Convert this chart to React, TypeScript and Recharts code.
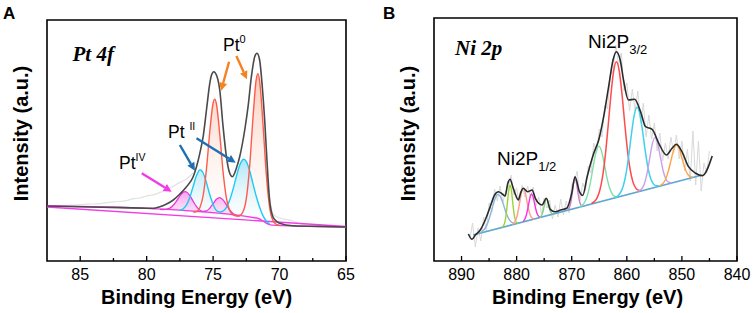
import React from "react";
import {
  ComposedChart,
  Line,
  Area,
  XAxis,
  YAxis,
  ReferenceArea,
  ReferenceLine,
} from "recharts";

const SANS = "'Liberation Sans', Arial, Helvetica, sans-serif";
const SERIF = "'Liberation Serif', 'Times New Roman', serif";

type Pt = [number, number];
type Band = [number, number, number]; // binding energy, background, fitted value

/* ---------- Panel A: Pt 4f ---------- */
const ptTicks = [85, 82.5, 80, 77.5, 75, 72.5, 70, 67.5, 65];
const ptMajor = [85, 80, 75, 70, 65];

const ptRawLeft: Pt[] = [
  [87.5, 55], [86.5, 55.6], [85.5, 55.9], [84.5, 56.8], [83.5, 57.4], [82.5, 59.1],
  [81.5, 60.4], [81, 62.3], [80.5, 63], [80, 65.2], [79.5, 66.1], [79, 68.6],
  [78.5, 71], [78, 74.8], [77.5, 78.6], [77, 82], [76.5, 88],
];
const ptRawRight: Pt[] = [
  [71, 90], [70.75, 64], [70.5, 47], [70.25, 44.5], [70, 43], [69.5, 41.5], [69, 40],
  [68.5, 37.5], [68, 36], [67, 35], [66, 34.6], [65, 34.3],
];

const ptEnvelope: Pt[] = [
  [87.5, 55], [85, 54.2], [82, 53.4], [80, 52.8], [79.5, 52.7], [79, 54.3], [78.5, 57],
  [78, 61], [77.5, 67], [77, 74.3], [76.5, 84.3], [76.25, 94.3], [76, 107.7],
  [75.75, 124.3], [75.5, 151], [75.25, 177.7], [75.12, 186], [74.95, 189.3],
  [74.75, 186], [74.5, 171], [74.25, 134.3], [74, 104.3], [73.75, 87.7], [73.55, 84.3],
  [73.25, 92.7], [73, 104.3], [72.62, 131], [72.37, 154.3], [72.12, 184.3],
  [71.87, 204.3], [71.7, 207.7], [71.5, 201], [71.3, 174.3], [71.12, 141],
  [70.95, 101], [70.75, 61], [70.5, 44.3], [70.25, 40], [70, 37.7], [69, 35.2],
  [67, 34.6], [65, 34],
];

const ptShirley: Pt[] = [
  [87.5, 55], [79.75, 52.5], [72, 43.5], [71.6, 42.5], [71.3, 40.5], [71, 37.8],
  [70.7, 36.1], [70.3, 35.6], [65, 34],
];
const ptLinear: Pt[] = [[87.5, 54], [65, 34.5]];

const pt0: Band[] = [
  [76.5, 48.7, 48.9], [76.25, 48.4, 49.5], [76, 48.1, 53.3], [75.75, 47.8, 65.5],
  [75.5, 47.5, 92], [75.25, 47.3, 129.3], [75, 47, 158], [74.88, 46.9, 161.9],
  [74.75, 46.7, 157], [74.5, 46.4, 126.9], [74.25, 46.1, 89.2], [74, 45.8, 62.8],
  [73.75, 45.5, 50.4], [73.5, 45.2, 46.2], [73.25, 44.9, 45], [73, 44.6, 45.5],
  [72.75, 44.3, 49.2], [72.5, 44, 62.6], [72.25, 43.8, 94.8], [72, 43.5, 143.2],
  [71.75, 43.2, 182.1], [71.63, 43, 187.4], [71.5, 42.1, 180], [71.25, 39.9, 137.7],
  [71, 37.75, 87.2], [70.75, 36, 53.8], [70.5, 35.9, 40.5], [70.25, 35.8, 36.7],
  [70, 35.7, 35.7],
];

const pt2: Band[] = [
  [77.5, 49.9, 50.7], [77.25, 49.6, 52.2], [77, 49.3, 56.1], [76.75, 49, 63.8],
  [76.5, 48.7, 74.7], [76.25, 48.4, 85.4], [76, 48.1, 91], [75.95, 48, 91],
  [75.75, 47.8, 88], [75.5, 47.5, 78.2], [75.25, 47.3, 66.3], [75, 47, 56.6],
  [74.75, 46.7, 50.6], [74.5, 46.4, 49], [74.25, 46.1, 49.9], [74, 45.8, 53.7],
  [73.75, 45.5, 60.9], [73.5, 45.2, 71.8], [73.25, 44.9, 84.5], [73, 44.6, 95.7],
  [72.75, 44.3, 101.5], [72.68, 44.2, 101.7], [72.5, 44, 99.4], [72.25, 43.8, 90.3],
  [72, 43.5, 77.3], [71.75, 43.2, 64.5], [71.5, 42.1, 53.7], [71.25, 39.9, 45.4],
  [71, 37.75, 39.95], [70.75, 36, 36.8],
];

const pt4: Band[] = [
  [79, 51.6, 51.65], [78.75, 51.3, 51.5], [78.5, 51, 51.8], [78.25, 50.7, 52.9],
  [78, 50.5, 55.7], [77.75, 50.2, 60.1], [77.5, 49.9, 65.2], [77.25, 49.6, 68.9],
  [77.1, 49.4, 69.4], [77, 49.3, 69], [76.75, 49, 65.3], [76.5, 48.7, 59.7],
  [76.25, 48.4, 54.4], [76, 48.1, 50.8], [75.75, 47.8, 49.6], [75.5, 47.5, 50.1],
  [75.25, 47.3, 52.9], [75, 47, 57.3], [74.75, 46.7, 61.7], [74.5, 46.4, 63.4],
  [74.25, 46.1, 61.1], [74, 45.8, 56.1], [73.75, 45.5, 51], [73.5, 45.2, 47.5],
  [73.25, 44.9, 45.65], [73, 44.6, 44.8],
];

/* ---------- Panel B: Ni 2p ---------- */
const niTicks = [890, 885, 880, 875, 870, 865, 860, 855, 850, 845, 840];
const niMajor = [890, 880, 870, 860, 850, 840];

const niRaw: Pt[] = [
  [888.5, 22], [888, 38], [887.5, 14], [887, 33], [886.5, 20], [886, 44], [885.5, 30],
  [885, 58], [884.5, 49], [884, 72], [883.5, 60], [883, 75], [882.5, 58], [882, 70],
  [881.5, 74], [881, 86], [880.5, 66], [880, 73], [879.5, 57], [879, 76], [878.5, 64],
  [878, 75], [877.5, 63], [877, 74], [876.5, 55], [876, 64], [875.5, 47], [875, 63],
  [874.5, 53], [874, 61], [873.5, 42], [873, 56], [872.5, 44], [872, 62], [871.5, 46],
  [871, 60], [870.5, 48], [870, 77], [869.5, 80], [869, 90], [868.5, 60], [868, 78],
  [867.5, 70], [867, 95], [866.5, 88], [866, 118], [865.5, 108], [865, 132],
  [864.5, 124], [864, 156], [863.5, 152], [863, 186], [862.5, 190], [862, 216],
  [861.5, 196], [861, 208], [860.5, 170], [860, 178], [859.5, 150], [859, 172],
  [858.5, 150], [858, 170], [857.5, 138], [857, 158], [856.5, 124], [856, 146],
  [855.5, 122], [855, 138], [854.5, 110], [854, 128], [853.5, 100], [853, 118],
  [852.5, 102], [852, 124], [851.5, 108], [851, 126], [850.5, 102], [850, 120],
  [849.5, 90], [849, 112], [848.5, 80], [848, 130], [847.5, 76], [847, 120],
  [846.5, 70], [846, 98], [845.5, 88], [845, 110],
];

const niEnvelope: Pt[] = [
  [888.76, 27], [888.1, 21.7], [887.5, 26], [886.6, 31], [885.7, 41], [884.8, 54.3],
  [884, 66], [883.3, 69.3], [882.6, 67], [882.1, 65], [881.6, 77.7], [881.2, 81.7],
  [880.7, 74.3], [880.3, 67.7], [879.7, 61], [879.2, 69.3], [878.8, 72.7], [878, 69.3],
  [877.2, 71], [876.6, 62.7], [876, 57.7], [875.4, 56], [874.6, 62.7], [873.9, 51.7],
  [873, 49.3], [872, 51], [870.9, 52.7], [870, 67.7], [869.4, 84.3], [868.6, 69.3],
  [868, 65.5], [867.2, 84.3], [866, 107.7], [865.1, 121], [864.2, 144.3],
  [863.3, 174.3], [862.5, 201], [861.9, 209.3], [861.2, 201], [860.6, 181],
  [859.7, 161], [858.6, 161.7], [857.5, 149.3], [856.6, 134.3], [855.4, 131.7],
  [854.2, 117.7], [852.8, 106], [851.8, 112.7], [851, 116.7], [850, 109.3],
  [848.8, 94.3], [847.5, 87.7], [846.3, 85.3], [844.5, 105],
];

const niBackground: Pt[] = [[887.9, 26], [846.3, 86]];

const niBlue: Pt[] = [
  [887.4, 26.9], [886.9, 27.6], [886.4, 29], [885.9, 31.5], [885.4, 36.1], [884.9, 43.7],
  [884.4, 53.5], [883.9, 62.5], [883.4, 66.5], [882.9, 63.9], [882.4, 56.4],
  [881.9, 48.1], [881.4, 41.9], [880.9, 38.7], [880.4, 37.6],
];
const niLime: Pt[] = [
  [882.7, 33.65], [882.45, 34.7], [882.2, 37.6], [881.95, 44.5], [881.7, 56.6],
  [881.45, 69.8], [881.2, 76], [880.95, 70.5], [880.7, 58], [880.45, 46.6],
  [880.2, 40.4], [879.95, 38.2], [879.7, 37.95],
];
const niSalmon: Pt[] = [
  [880.8, 36.6], [880.55, 37.5], [880.3, 39.35], [880.05, 42.6], [879.8, 48],
  [879.55, 55.3], [879.3, 63.4], [879.05, 69.9], [878.8, 72.7], [878.55, 70.7],
  [878.3, 64.8], [878.05, 57.5], [877.8, 50.8], [877.55, 46.2], [877.3, 43.55],
  [877.05, 42.5], [876.8, 42.3],
];
const niMagenta: Pt[] = [
  [878.8, 39.7], [878.55, 41.5], [878.3, 44.7], [878.05, 50.4], [877.8, 57.5],
  [877.55, 64.1], [877.3, 67], [877.05, 64.8], [876.8, 59], [876.55, 52.5],
  [876.3, 47.6], [876.05, 45.1], [875.8, 44],
];
const niGreen: Pt[] = [
  [875.85, 43.5], [875.6, 44.55], [875.35, 47], [875.1, 52.3], [874.85, 58.8],
  [874.6, 62.2], [874.35, 59.6], [874.1, 53.7], [873.85, 49.2], [873.6, 47.35],
  [873.35, 47.1],
];
const niViolet: Pt[] = [
  [870.65, 51.5], [870.4, 53.8], [870.15, 59], [869.9, 68], [869.65, 78], [869.4, 82.7],
  [869.15, 78.7], [868.9, 69.4], [868.65, 61.2], [868.4, 56.6], [868.15, 55.1],
];
const niMint: Pt[] = [
  [868.6, 54], [868.1, 55.7], [867.6, 59.3], [867.1, 66.6], [866.6, 78.6], [866.1, 94.4],
  [865.6, 108.5], [865.1, 114.9], [864.6, 110.1], [864.1, 97.4], [863.6, 83.1],
  [863.1, 72.5], [862.6, 66.7], [862.1, 64.5], [861.6, 64.25],
];
const niRed: Pt[] = [
  [866.4, 57.5], [865.9, 59.4], [865.4, 63.1], [864.9, 70.7], [864.4, 84.3],
  [863.9, 105.9], [863.4, 134.5], [862.9, 165.3], [862.4, 189.6], [861.9, 199.3],
  [861.4, 191], [860.9, 168.2], [860.4, 138.8], [859.9, 111.7], [859.4, 91.5],
  [858.9, 79.3], [858.4, 73.2], [857.9, 70.9], [857.4, 70.5],
];
const niCyan: Pt[] = [
  [862.15, 63.4], [861.65, 65], [861.15, 68.3], [860.65, 75], [860.15, 87.1],
  [859.65, 105.5], [859.15, 127.4], [858.65, 145.9], [858.15, 153.7], [857.65, 147.3],
  [857.15, 130.2], [856.65, 109.9], [856.15, 92.9], [855.65, 82.2], [855.15, 76.9],
  [854.65, 75.2], [854.15, 75],
];
const niLavender: Pt[] = [
  [857.9, 69.5], [857.4, 71.6], [856.9, 76.1], [856.4, 85.7], [855.9, 100.8],
  [855.4, 116.4], [854.9, 123.6], [854.4, 117.8], [853.9, 103.7], [853.4, 90],
  [852.9, 81.8], [852.4, 78.8], [851.9, 78.2],
];
const niOrange: Pt[] = [
  [854, 75.3], [853.5, 77.2], [853, 81.3], [852.5, 89.1], [852, 100.1], [851.5, 111],
  [851, 116], [850.5, 112.4], [850, 102.9], [849.5, 93.4], [849, 87.1], [848.5, 84.4],
  [848, 83.9],
];

// annotation arrows, in data coordinates (eV, a.u.)
const ptArrows = [
  { color: "#f58220", from: [73.8, 199.3], to: [74.4, 170.3] },
  { color: "#f58220", from: [73.25, 205], to: [72.45, 181.7] },
  { color: "#1f6fb2", from: [77.5, 116], to: [76.37, 90.3] },
  { color: "#1f6fb2", from: [76.25, 122.7], to: [73.3, 98.3] },
  { color: "#f03ce6", from: [80.37, 87.7], to: [78.12, 69.3] },
];

const toPts = (arr: Pt[]) => arr.map(([x, y]) => ({ x, y }));
const toTop = (arr: Band[]) => arr.map(([x, , hi]) => ({ x, y: hi }));
const toBand = (arr: Band[]) => arr.map(([x, lo, hi]) => ({ x, y: [lo, hi] }));

const curve = (key: string, data: any[], color: string, width = 1.4, type: any = "monotone") => (
  <Line
    key={key}
    data={data}
    dataKey="y"
    type={type}
    stroke={color}
    strokeWidth={width}
    dot={false}
    activeDot={false}
    isAnimationActive={false}
  />
);

const makeTick = (major: number[]) => (props: any) => {
  const { x, y, payload } = props;
  const isMajor = major.includes(payload.value);
  return (
    <g>
      <line x1={x} x2={x} y1={y} y2={y - (isMajor ? 5 : 3)} stroke="#000" strokeWidth={1.3} />
      {isMajor && (
        <text x={x} y={y + 19} textAnchor="middle" fontSize={16} fontFamily={SANS} fill="#000">
          {payload.value}
        </text>
      )}
    </g>
  );
};

const arrowShape = (color: string) => (p: any) => {
  const { x1, y1, x2, y2 } = p;
  const a = Math.atan2(y2 - y1, x2 - x1);
  const len = 8;
  const half = 4;
  const bx = x2 - len * Math.cos(a);
  const by = y2 - len * Math.sin(a);
  const head = `${x2},${y2} ${bx + half * Math.sin(a)},${by - half * Math.cos(a)} ${bx - half * Math.sin(a)},${by + half * Math.cos(a)}`;
  return (
    <g>
      <line x1={x1} y1={y1} x2={bx} y2={by} stroke={color} strokeWidth={2.4} />
      <polygon points={head} fill={color} />
    </g>
  );
};

function PtChart() {
  return (
    <ComposedChart width={360} height={313} margin={{ top: 20, right: 14, bottom: 0, left: 47 }}>
      <defs>
        <linearGradient id="gPt0" x1="0" y1="0" x2="0" y2="1">
          <stop offset="0%" stopColor="#f59a74" stopOpacity={0.85} />
          <stop offset="100%" stopColor="#ffffff" stopOpacity={0.2} />
        </linearGradient>
        <linearGradient id="gPt2" x1="0" y1="0" x2="0" y2="1">
          <stop offset="0%" stopColor="#5fcdf0" stopOpacity={0.85} />
          <stop offset="100%" stopColor="#ffffff" stopOpacity={0.2} />
        </linearGradient>
        <linearGradient id="gPt4" x1="0" y1="0" x2="0" y2="1">
          <stop offset="0%" stopColor="#f050e0" stopOpacity={0.9} />
          <stop offset="100%" stopColor="#f7b0ef" stopOpacity={0.4} />
        </linearGradient>
      </defs>
      <XAxis
        dataKey="x"
        type="number"
        domain={[65, 87.5]}
        reversed
        allowDataOverflow
        ticks={ptTicks}
        interval={0}
        tickSize={0}
        tickMargin={0}
        tickLine={false}
        axisLine={false}
        height={52}
        tick={makeTick(ptMajor)}
      />
      <YAxis type="number" domain={[0, 241]} allowDataOverflow hide />
      {curve("rawL", toPts(ptRawLeft), "#e2e2e2", 1.2)}
      {curve("rawR", toPts(ptRawRight), "#e2e2e2", 1.2)}
      <Area data={toBand(pt0)} dataKey="y" type="monotone" stroke="none" fill="url(#gPt0)" isAnimationActive={false} />
      <Area data={toBand(pt2)} dataKey="y" type="monotone" stroke="none" fill="url(#gPt2)" isAnimationActive={false} />
      <Area data={toBand(pt4)} dataKey="y" type="monotone" stroke="none" fill="url(#gPt4)" isAnimationActive={false} />
      {curve("lin", toPts(ptLinear), "#f23de6", 1.4, "linear")}
      {curve("shirley", toPts(ptShirley), "#f23de6", 1.4)}
      {curve("pt4", toTop(pt4), "#e83ad8", 1.3)}
      {curve("pt2", toTop(pt2), "#1ccbf2", 1.4)}
      {curve("pt0", toTop(pt0), "#ff5a4c", 1.4)}
      {curve("env", toPts(ptEnvelope), "#4a4a4a", 1.6)}
      {ptArrows.map((a, i) => (
        <ReferenceLine
          key={`arr${i}`}
          segment={[{ x: a.from[0], y: a.from[1] }, { x: a.to[0], y: a.to[1] }]}
          stroke={a.color}
          shape={arrowShape(a.color)}
        />
      ))}
      <ReferenceArea x1={87.5} x2={65} y1={0} y2={241} fill="none" stroke="#000" strokeWidth={1.6} />
    </ComposedChart>
  );
}

function NiChart() {
  return (
    <ComposedChart width={374} height={313} margin={{ top: 18, right: 17, bottom: 0, left: 54 }}>
      <XAxis
        dataKey="x"
        type="number"
        domain={[840, 895]}
        reversed
        allowDataOverflow
        ticks={niTicks}
        interval={0}
        tickSize={0}
        tickMargin={0}
        tickLine={false}
        axisLine={false}
        height={52}
        tick={makeTick(niMajor)}
      />
      <YAxis type="number" domain={[0, 243]} allowDataOverflow hide />
      {curve("raw", toPts(niRaw), "#d9d9d9", 1, "linear")}
      {curve("bg", toPts(niBackground), "#5fa6d2", 1.6, "linear")}
      {curve("blue", toPts(niBlue), "#8cb6de", 1.4)}
      {curve("lime", toPts(niLime), "#9ad336", 1.4)}
      {curve("salmon", toPts(niSalmon), "#ff9c8e", 1.4)}
      {curve("magenta", toPts(niMagenta), "#ff30dc", 1.4)}
      {curve("green", toPts(niGreen), "#7fd07f", 1.4)}
      {curve("violet", toPts(niViolet), "#cf7fd0", 1.4)}
      {curve("mint", toPts(niMint), "#80dfa6", 1.4)}
      {curve("red", toPts(niRed), "#ff4b4b", 1.5)}
      {curve("cyan", toPts(niCyan), "#3fd0ef", 1.5)}
      {curve("lavender", toPts(niLavender), "#c7a0ec", 1.4)}
      {curve("orange", toPts(niOrange), "#ffa442", 1.4)}
      {curve("env", toPts(niEnvelope), "#2b2b2b", 1.6)}
      <ReferenceArea x1={895} x2={840} y1={0} y2={243} fill="none" stroke="#000" strokeWidth={1.6} />
    </ComposedChart>
  );
}

function Labels() {
  const t = { fontFamily: SANS, fill: "#000" };
  return (
    <svg width={754} height={313} style={{ position: "absolute", left: 0, top: 0, pointerEvents: "none" }}>
      <text x={3} y={18.5} fontSize={17} fontWeight="bold" {...t}>A</text>
      <text x={383} y={18.5} fontSize={17} fontWeight="bold" {...t}>B</text>

      <text x={28} y={133.5} fontSize={20} fontWeight="bold" textAnchor="middle" transform="rotate(-90 28 133.5)" {...t}>
        Intensity (a.u.)
      </text>
      <text x={415} y={133.5} fontSize={20} fontWeight="bold" textAnchor="middle" transform="rotate(-90 415 133.5)" {...t}>
        Intensity (a.u.)
      </text>
      <text x={196.5} y={304} fontSize={20} fontWeight="bold" textAnchor="middle" {...t}>Binding Energy (eV)</text>
      <text x={587.5} y={304} fontSize={20} fontWeight="bold" textAnchor="middle" {...t}>Binding Energy (eV)</text>

      <text x={72.5} y={61} fontSize={21} fontWeight="bold" fontStyle="italic" fontFamily={SERIF} fill="#000">Pt 4f</text>
      <text x={455} y={55} fontSize={21} fontWeight="bold" fontStyle="italic" fontFamily={SERIF} fill="#000">Ni 2p</text>

      <text x={223} y={50.7} fontSize={17.5} {...t}>
        Pt<tspan fontSize={11} dy={-8}>0</tspan>
      </text>
      <text x={168} y={138} fontSize={17.5} {...t}>
        Pt <tspan fontSize={10.5} dy={-8}>II</tspan>
      </text>
      <text x={119} y={169} fontSize={17.5} {...t}>
        Pt<tspan fontSize={10.5} dy={-8}>IV</tspan>
      </text>

      <text x={588} y={48} fontSize={19} {...t}>
        Ni2P<tspan fontSize={13} dy={6}>3/2</tspan>
      </text>
      <text x={497} y={165} fontSize={19} {...t}>
        Ni2P<tspan fontSize={13} dy={6}>1/2</tspan>
      </text>
    </svg>
  );
}

export default function App() {
  return (
    <div style={{ position: "absolute", left: 0, top: 0, width: 754, height: 313, background: "#fff" }}>
      <div style={{ position: "absolute", left: 0, top: 0 }}>
        <PtChart />
      </div>
      <div style={{ position: "absolute", left: 380, top: 0 }}>
        <NiChart />
      </div>
      <Labels />
    </div>
  );
}
